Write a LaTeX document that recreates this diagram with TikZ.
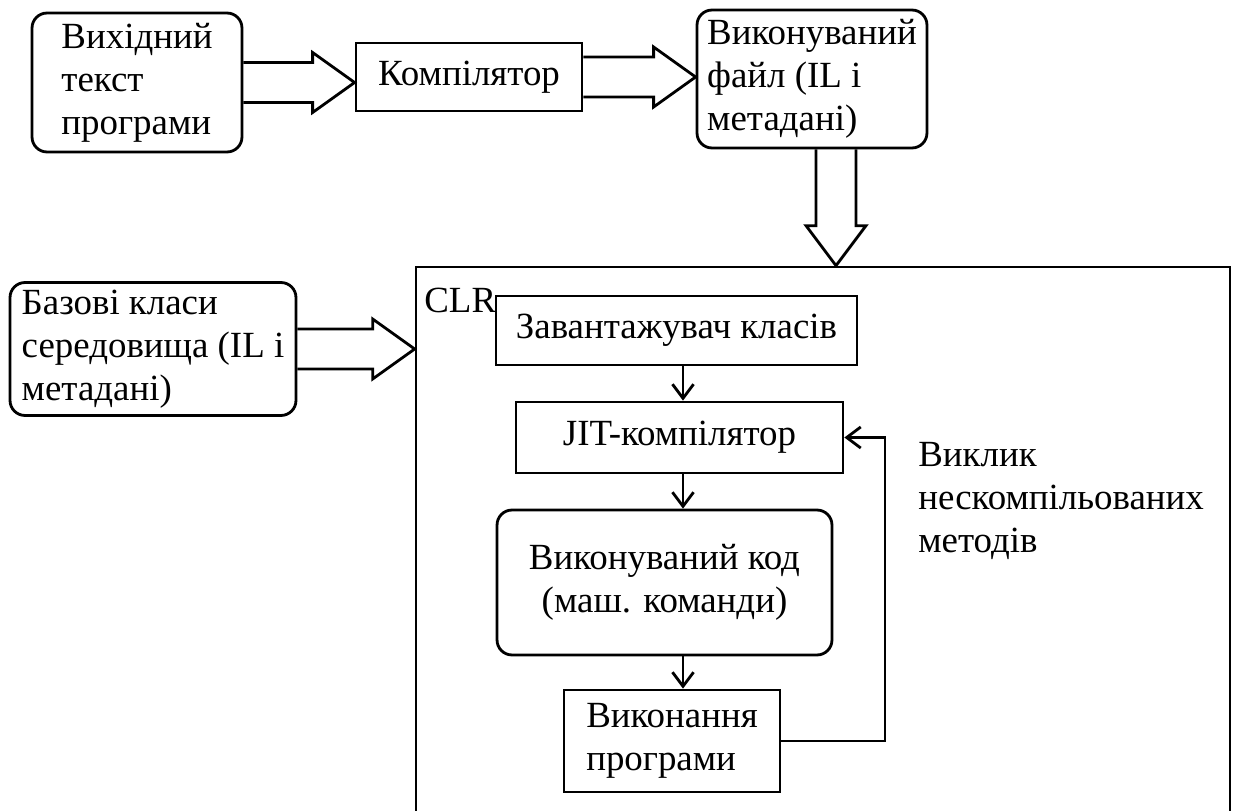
\documentclass[tikz,border=0pt]{standalone}
\usepackage{fontspec}
\setmainfont{Liberation Serif}
\usepackage{tikz}
\usetikzlibrary{calc,arrows.meta}

\tikzset{
  block/.style={draw, line width=1.6pt, inner sep=1pt, align=left},
  rblock/.style={block, rounded corners=0.3cm},
  flow/.style={line width=1.6pt, -{Straight Barb[length=8pt,width=12pt]}},
  fat/.style={line width=1.6pt, line join=miter}
}
% hollow arrow to the right, from #1 to the west side of #2
\newcommand{\fatright}[2]{%
  \draw[fat] let \p1=(#1.east), \p2=(#2.west) in
    (\x1,\y1+0.4cm) -- (\x2-0.84cm,\y1+0.4cm) -- (\x2-0.84cm,\y1+0.6cm)
    -- (\x2,\y1) -- (\x2-0.84cm,\y1-0.6cm) -- (\x2-0.84cm,\y1-0.4cm) -- (\x1,\y1-0.4cm);}
% hollow arrow downwards, from point #1 to the north side of #2
\newcommand{\fatdown}[2]{%
  \draw[fat] let \p1=#1, \p2=(#2.north) in
    (\x1-0.4cm,\y1) -- (\x1-0.4cm,\y2+0.8cm) -- (\x1-0.6cm,\y2+0.8cm)
    -- (\x1,\y2) -- (\x1+0.6cm,\y2+0.8cm) -- (\x1+0.4cm,\y2+0.8cm) -- (\x1+0.4cm,\y1);}

\begin{document}
\begin{tikzpicture}[x=0.02cm, y=-0.02cm, font=\fontsize{21}{24.5}\selectfont]
  \useasboundingbox (0,0) rectangle (1235,811);
  \clip (0,0) rectangle (1235,811);

  % top row
  \node[rblock, minimum width=4.2cm, minimum height=2.78cm] (src) at (137,82.5)
    {Вихідний\\текст\\програми};
  \node[block, minimum width=4.52cm, minimum height=1.36cm] (comp) at (469,77) {Компілятор};
  \node[rblock, minimum width=4.6cm, minimum height=2.76cm] (exe) at (812,79)
    {Виконуваний\\файл (IL і\\метадані)};
  \fatright{src}{comp}
  \fatright{comp}{exe}

  % runtime
  \node[block, minimum width=16.28cm, minimum height=11.6cm] (clr) at (823,557) {};
  \node[anchor=north west, inner sep=0pt] (clrlabel) at (424,288) {CLR};
  \coordinate (chute) at (836,0);
  \fatdown{(exe.south -| chute)}{clr}
  \node[rblock, minimum width=5.72cm, minimum height=2.66cm] (base) at (153,349)
    {Базові класи\\середовища (IL і\\метадані)};
  \fatright{base}{clr}

  \node[block, minimum width=7.22cm, minimum height=1.38cm] (loader) at (676.5,330.5)
    {Завантажувач класів};
  \node[block, minimum width=6.54cm, minimum height=1.42cm] (jit) at (679.5,437.5)
    {JIT-компілятор};
  \node[rblock, align=center, minimum width=6.7cm, minimum height=2.9cm] (code) at (664.5,582.5)
    {Виконуваний код\\(маш. команди)};
  \node[block, minimum width=4.32cm, minimum height=2.04cm] (run) at (672,741)
    {Виконання\\програми};
  \node[anchor=north west, align=left, inner sep=0pt] (call) at (918,442)
    {Виклик\\нескомпільованих\\методів};

  \coordinate (spine) at (683,0);
  \coordinate (loop) at (885,0);
  \draw[flow] (loader.south -| spine) -- (jit.north -| spine);
  \draw[flow] (jit.south -| spine) -- (code.north -| spine);
  \draw[flow] (code.south -| spine) -- (run.north -| spine);
  \draw[flow] (run.east) -- (run.east -| loop) |- (jit.east);
\end{tikzpicture}
\end{document}
